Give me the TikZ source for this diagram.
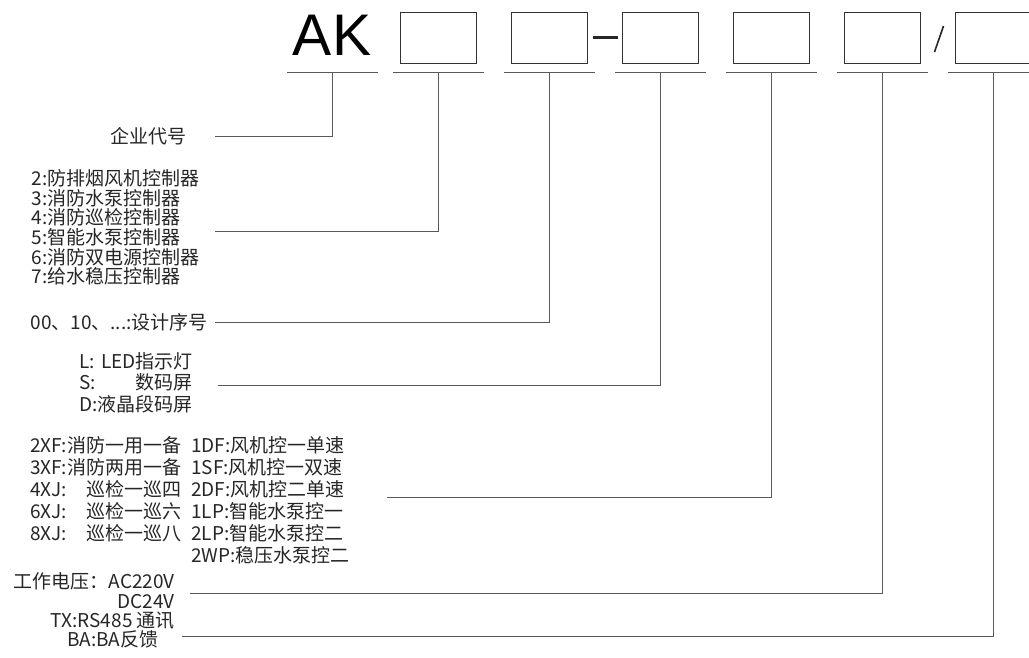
\documentclass[tikz,border=0pt]{standalone}
\usepackage{fontspec}
\setmainfont{Liberation Sans}
\newfontfamily\cjk{Noto Sans CJK SC}
\usetikzlibrary{positioning}

\tikzset{
  slot/.style={draw=black!80,line width=1pt,minimum width=76pt,minimum height=51pt,inner sep=0pt},
  rule/.style={draw=black!65,line width=1pt},
  wire/.style={draw=black!65,line width=1pt},
  lbl/.style={font={\cjk\fontsize{19}{19.7}\selectfont},inner sep=0pt,text=black!85}
}

\begin{document}
\begin{tikzpicture}[x=1pt,y=-1pt]
    \useasboundingbox (0,0) rectangle (1029,657);

    % model code
    \node[font={\fontsize{58.7}{60}\selectfont},inner sep=0pt,anchor=base] (ak) at (332,55) {AK};
    \foreach \n/\x in {1/438,2/549,3/660,4/771,5/882,6/993}
        \node[slot] (b\n) at (\x,37.5) {};
    \foreach \n/\x in {0/332,1/438,2/549,3/660,4/771,5/882,6/993}{
        \coordinate (u\n) at (\x,72);
        \draw[rule] ([xshift=-45.5pt]u\n) -- ([xshift=45.5pt]u\n);
    }
    \draw[line width=2.2pt,black!85] ([xshift=5pt]b2.east) -- ([xshift=-4pt]b3.west);
    \draw[line width=1.6pt,black!85] ([xshift=14pt,yshift=-14.5pt]b5.east) -- ([xshift=23pt,yshift=11.5pt]b5.east);

    % fields
    \node[lbl,anchor=east] (code) at (187,136) {企业代号};
    \node[lbl,anchor=east,align=left] (type) at (200,227.5)
        {2:防排烟风机控制器\\3:消防水泵控制器\\4:消防巡检控制器\\5:智能水泵控制器\\6:消防双电源控制器\\7:给水稳压控制器};
    \node[lbl,anchor=east] (serial) at (208,322) {00、10、...:设计序号};
    \node[lbl,anchor=east] (disp) at (193,385)
        {\begin{tabular}{@{}l@{}r@{}}L: & LED指示灯\\S: & 数码屏\\D: & 液晶段码屏\end{tabular}};
    \node[lbl,anchor=east] (func) at (350,502)
        {\begin{tabular}{@{}l@{}r@{\hspace{10pt}}l@{}}
        2XF: & 消防一用一备 & 1DF:风机控一单速\\
        3XF: & 消防两用一备 & 1SF:风机控一双速\\
        4XJ: & 巡检一巡四 & 2DF:风机控二单速\\
        6XJ: & 巡检一巡六 & 1LP:智能水泵控一\\
        8XJ: & 巡检一巡八 & 2LP:智能水泵控二\\
         & & 2WP:稳压水泵控二
        \end{tabular}};
    \node[lbl,anchor=east,align=right] (volt) at (175,591) {工作电压：AC220V\\DC24V};
    \node[lbl,anchor=east,align=center] (comm) at (175,630) {TX:RS485 通讯\\BA:BA反馈};

    \foreach \from/\dx/\dy/\to in {code/28/0/u0,type/15/-3.5/u1,serial/7/0/u2,disp/25/0/u3,func/37/5/u4,volt/15/-2/u5,comm/7/-6/u6}
        \draw[wire] ([xshift=\dx pt,yshift=\dy pt]\from.east) -| (\to);
\end{tikzpicture}
\end{document}
